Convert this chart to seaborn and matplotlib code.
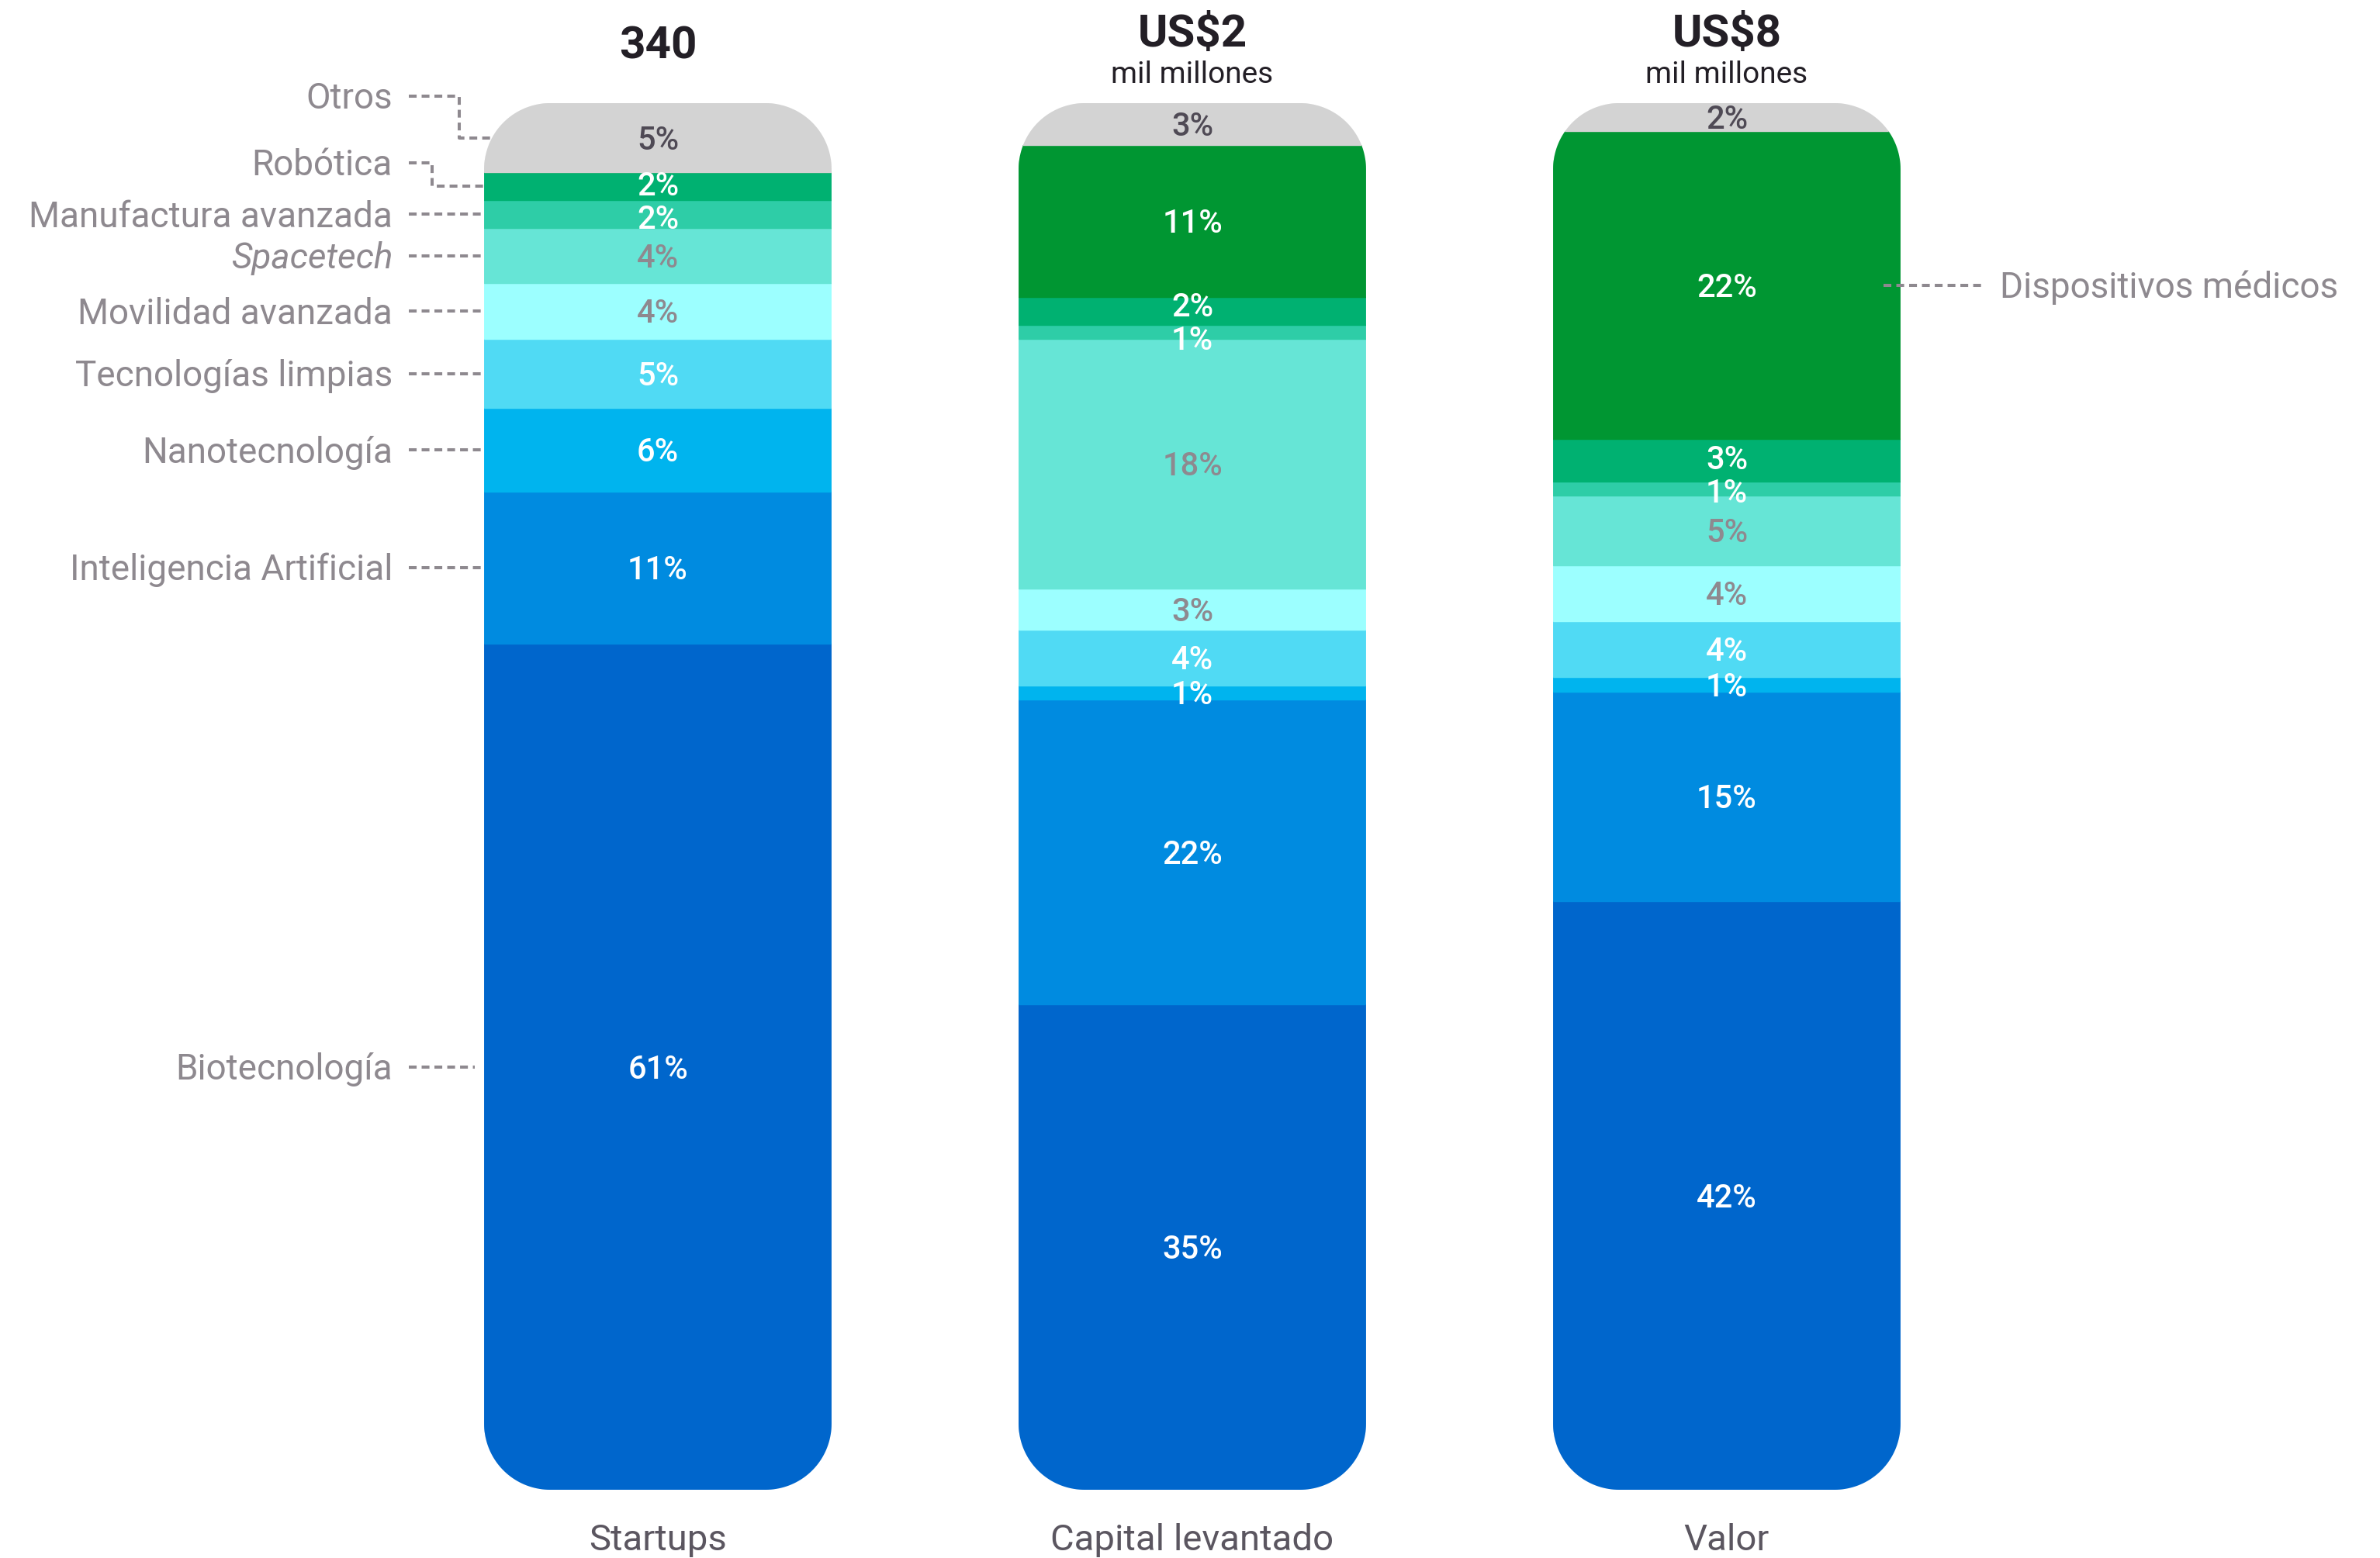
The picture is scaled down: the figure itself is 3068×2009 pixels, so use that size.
import numpy as np
import pandas as pd
import matplotlib
matplotlib.use("Agg")
import matplotlib.pyplot as plt
import seaborn as sns
from matplotlib.path import Path
from matplotlib.transforms import blended_transform_factory, ScaledTranslation

# ---------------- data ----------------
metrics = ["Startups", "Capital levantado", "Valor"]
header_values = ["340", "US$2", "US$8"]
header_units = ["", "mil millones", "mil millones"]

# stacking order: bottom -> top
sectors = [
    "Biotecnología",
    "Inteligencia Artificial",
    "Nanotecnología",
    "Tecnologías limpias",
    "Movilidad avanzada",
    "Spacetech",
    "Manufactura avanzada",
    "Robótica",
    "Dispositivos médicos",
    "Otros",
]
startups_pct = [61, 11, 6, 5, 4, 4, 2, 2, 0, 5]
capital_pct = [35, 22, 1, 4, 3, 18, 1, 2, 11, 3]
valor_pct = [42, 15, 1, 4, 4, 5, 1, 3, 22, 2]

sector_colors = [
    "#0066CC",  # Biotecnología
    "#008BE0",  # Inteligencia Artificial
    "#00B4EE",  # Nanotecnología
    "#50DAF4",  # Tecnologías limpias
    "#9CFFFF",  # Movilidad avanzada
    "#66E5D6",  # Spacetech
    "#2ECDA7",  # Manufactura avanzada
    "#00B171",  # Robótica
    "#009632",  # Dispositivos médicos
    "#D3D3D3",  # Otros
]
WHITE, GREY, DARK = "#FFFFFF", "#8E898F", "#4F4A55"
value_colors = [WHITE, WHITE, WHITE, WHITE, GREY, GREY, WHITE, WHITE, WHITE, DARK]

# ---------------- style ----------------
sns.set_theme(style="white")
plt.rcParams["font.family"] = ["Roboto", "DejaVu Sans"]

LABEL_GREY = "#8E898F"
HEAD_COLOR = "#231F26"
TICK_COLOR = "#5B5660"

W, H, DPI = 3068, 2009, 100
COL_STEP = 689          # px between bar centres
FIRST_CENTER = 848      # px, centre of first bar
Y_TOP, Y_BOT = 133, 1921
BAR_WIDTH = 0.65

fig = plt.figure(figsize=(W / DPI, H / DPI), dpi=DPI)
fig.patch.set_facecolor("white")
ax_left = FIRST_CENTER - 0.5 * COL_STEP
ax = fig.add_axes([ax_left / W, (H - Y_BOT) / H, 3 * COL_STEP / W, (Y_BOT - Y_TOP) / H])

px_per_unit = (Y_BOT - Y_TOP) / 100.0


def px_x(px):
    """Horizontal pixel position -> data x."""
    return (px - FIRST_CENTER) / COL_STEP


def px_y(px):
    """Vertical pixel position (from top) -> data y."""
    return (Y_BOT - px) / px_per_unit


# long table, each column scaled to its own total
df = pd.DataFrame({
    "metric": np.repeat(metrics, len(sectors)),
    "sector": sectors * len(metrics),
    "pct": startups_pct + capital_pct + valor_pct,
})
df["share"] = df["pct"] / df.groupby("metric")["pct"].transform("sum") * 100

# ---------------- stacked bars ----------------
bottoms = np.zeros(len(metrics))
for sector, color in zip(sectors, sector_colors):
    sub = df[df["sector"] == sector]
    heights = sub.set_index("metric").loc[metrics, "share"].to_numpy()
    sns.barplot(
        data=sub, x="metric", y="share", order=metrics,
        color=color, saturation=1, width=BAR_WIDTH, errorbar=None,
        bottom=bottoms.copy(), edgecolor=color, linewidth=1, ax=ax,
    )
    bottoms += heights

ax.set_xlim(-0.5, 2.5)
ax.set_ylim(0, 100)

# rounded outline for each column
RX = 85 / COL_STEP
RY = 85 / px_per_unit


def rounded_column(xc, half, y0, y1, n=40):
    x0, x1 = xc - half, xc + half
    pts = []
    for cx, cy, a0, a1 in [
        (x1 - RX, y1 - RY, 0.0, np.pi / 2),
        (x0 + RX, y1 - RY, np.pi / 2, np.pi),
        (x0 + RX, y0 + RY, np.pi, 1.5 * np.pi),
        (x1 - RX, y0 + RY, 1.5 * np.pi, 2 * np.pi),
    ]:
        t = np.linspace(a0, a1, n)
        pts.extend(zip(cx + RX * np.cos(t), cy + RY * np.sin(t)))
    pts.append(pts[0])
    codes = [Path.MOVETO] + [Path.LINETO] * (len(pts) - 2) + [Path.CLOSEPOLY]
    return Path(pts, codes)


clips = [rounded_column(i, BAR_WIDTH / 2, 0, 100) for i in range(len(metrics))]
for patch in ax.patches:
    idx = int(round(patch.get_x() + patch.get_width() / 2))
    patch.set_clip_path(clips[idx], ax.transData)

# ---------------- value labels ----------------
val_off = ax.transData + ScaledTranslation(0, -15 / DPI, fig.dpi_scale_trans)
MIN_GAP = 2.4  # minimum spacing between neighbouring labels, in data units
for i, m in enumerate(metrics):
    base = 0.0
    col = df[df["metric"] == m].set_index("sector")
    items = []
    for sector, tcolor in zip(sectors, value_colors):
        pct, share = col.loc[sector, "pct"], col.loc[sector, "share"]
        if pct > 0:
            items.append([base + share / 2, pct, tcolor])
        base += share
    # spread neighbours that sit too close together
    for k in range(len(items) - 1):
        gap = items[k + 1][0] - items[k][0]
        if gap < MIN_GAP:
            shift = (MIN_GAP - gap) / 2
            items[k][0] -= shift
            items[k + 1][0] += shift
    for y, pct, tcolor in items:
        ax.text(i, y, f"{pct}%", ha="center", va="baseline",
                fontsize=30, fontweight="medium", color=tcolor,
                transform=val_off, zorder=5)

# ---------------- category leaders (left) ----------------
lab_off = ax.transData + ScaledTranslation(0, -16.5 / DPI, fig.dpi_scale_trans)
leader_kw = dict(color=LABEL_GREY, lw=2.9, linestyle=(0, (2.5, 1.6)),
                 clip_on=False, solid_capstyle="butt", dash_capstyle="butt")

first = df[df["metric"] == metrics[0]].set_index("sector")
centers = {}
base = 0.0
for sector in sectors:
    share = first.loc[sector, "share"]
    centers[sector] = base + share / 2
    base += share

text_right = px_x(506)
lead_start = px_x(527)
bar_edge = -BAR_WIDTH / 2

# sectors with a straight leader
for sector in ["Manufactura avanzada", "Spacetech", "Movilidad avanzada",
               "Tecnologías limpias", "Nanotecnología", "Inteligencia Artificial",
               "Biotecnología"]:
    y = centers[sector]
    end = px_x(612) if sector == "Biotecnología" else bar_edge
    ax.plot([lead_start, end], [y, y], **leader_kw)
    ax.text(text_right, y, sector, ha="right", va="baseline", fontsize=33,
            color=LABEL_GREY, style="italic" if sector == "Spacetech" else "normal",
            transform=lab_off, clip_on=False)

# sectors with an elbow leader (labels lifted above their thin segments)
for sector, label_px, elbow_px, end_px in [("Otros", 124, 592, 636),
                                           ("Robótica", 210, 557, 624)]:
    y_lab = px_y(label_px)
    y_seg = centers[sector]
    ex = px_x(elbow_px)
    ax.plot([lead_start, ex, ex, px_x(end_px)], [y_lab, y_lab, y_seg, y_seg], **leader_kw)
    ax.text(text_right, y_lab, sector, ha="right", va="baseline", fontsize=33,
            color=LABEL_GREY, transform=lab_off, clip_on=False)

# right-hand leader for the sector absent from the first column
last = df[df["metric"] == metrics[-1]].set_index("sector")
base = 0.0
for sector in sectors:
    if sector == "Dispositivos médicos":
        y_dm = base + last.loc[sector, "share"] / 2
    base += last.loc[sector, "share"]
ax.plot([2 + px_x(2428) - px_x(2226), 2 + px_x(2557) - px_x(2226)], [y_dm, y_dm],
        zorder=4, **leader_kw)
ax.text(2 + px_x(2578) - px_x(2226), y_dm, "Dispositivos médicos", ha="left",
        va="baseline", fontsize=33, color=LABEL_GREY, transform=lab_off, clip_on=False)

# ---------------- column headers ----------------
head_tr = blended_transform_factory(ax.transData, fig.transFigure)
for i, (val, unit) in enumerate(zip(header_values, header_units)):
    base_px = 75 if unit == "" else 60
    ax.text(i, 1 - base_px / H, val, ha="center", va="baseline", fontsize=42,
            fontweight="semibold", color=HEAD_COLOR, transform=head_tr, clip_on=False)
    if unit:
        ax.text(i, 1 - 107 / H, unit, ha="center", va="baseline", fontsize=28,
                color=HEAD_COLOR, transform=head_tr, clip_on=False)

# ---------------- axes cosmetics ----------------
sns.despine(ax=ax, left=True, bottom=True)
ax.set_yticks([])
ax.set_xlabel("")
ax.set_ylabel("")
ax.tick_params(axis="x", length=0, pad=31, labelsize=34, labelcolor=TICK_COLOR)
ax.grid(False)
ax.set_facecolor("none")

fig.savefig("out.png", dpi=DPI, facecolor="white")
